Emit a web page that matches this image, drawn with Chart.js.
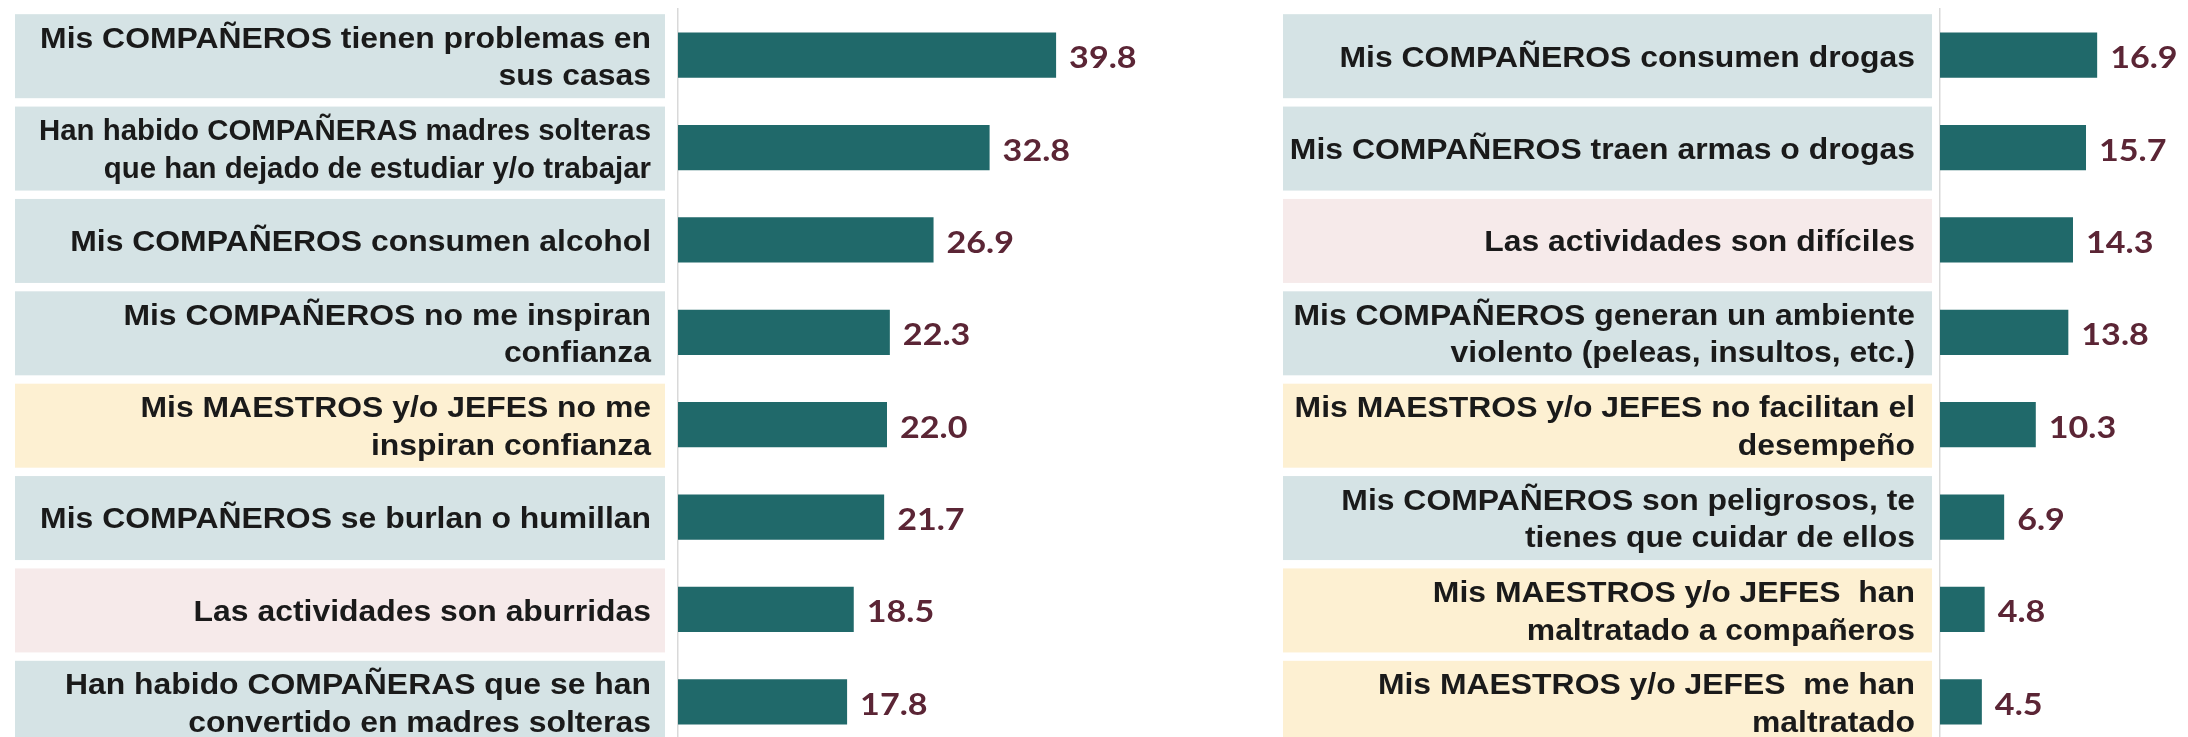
<!DOCTYPE html>
<html>
<head>
<meta charset="utf-8">
<script src="https://cdn.jsdelivr.net/npm/chart.js@4/dist/chart.umd.min.js"></script>
<style>
  html, body { margin: 0; padding: 0; background: #fff; width: 2188px; height: 737px; overflow: hidden; }
  #chart-left { position: absolute; left: 0; top: 0; }
  #chart-right { position: absolute; left: 1262px; top: 0; }
</style>
</head>
<body>
<canvas id="chart-left" width="1250" height="750"></canvas>
<canvas id="chart-right" width="1238" height="750"></canvas>
<script>
// categories, values and row groups for each panel
var leftLabels = [
    ['Mis COMPAÑEROS tienen problemas en', 'sus casas'],
    ['Han habido COMPAÑERAS madres solteras', 'que han dejado de estudiar y/o trabajar'],
    ['Mis COMPAÑEROS consumen alcohol'],
    ['Mis COMPAÑEROS no me inspiran', 'confianza'],
    ['Mis MAESTROS y/o JEFES no me', 'inspiran confianza'],
    ['Mis COMPAÑEROS se burlan o humillan'],
    ['Las actividades son aburridas'],
    ['Han habido COMPAÑERAS que se han', 'convertido en madres solteras']
];
var leftValues = [39.8, 32.8, 26.9, 22.3, 22.0, 21.7, 18.5, 17.8];
var leftGroups = ['companeros', 'companeros', 'companeros', 'companeros', 'maestros', 'companeros', 'actividades', 'companeros'];

var rightLabels = [
    ['Mis COMPAÑEROS consumen drogas'],
    ['Mis COMPAÑEROS traen armas o drogas'],
    ['Las actividades son difíciles'],
    ['Mis COMPAÑEROS generan un ambiente', 'violento (peleas, insultos, etc.)'],
    ['Mis MAESTROS y/o JEFES no facilitan el', 'desempeño'],
    ['Mis COMPAÑEROS son peligrosos, te', 'tienes que cuidar de ellos'],
    ['Mis MAESTROS y/o JEFES  han', 'maltratado a compañeros'],
    ['Mis MAESTROS y/o JEFES  me han', 'maltratado']
];
var rightValues = [16.9, 15.7, 14.3, 13.8, 10.3, 6.9, 4.8, 4.5];
var rightGroups = ['companeros', 'companeros', 'actividades', 'companeros', 'maestros', 'companeros', 'maestros', 'maestros'];

var groupColors = {
    companeros: '#d5e3e5',
    maestros: '#fdf0d2',
    actividades: '#f6eaea'
};

var TEXT_STRETCH = 1.1;

// shaded label boxes, wrapped category text and value labels
var panelPlugin = {
    id: 'panel',
    beforeDatasetsDraw: function (chart, args, opts) {
        var ctx = chart.ctx;
        var y = chart.scales.y;
        var area = chart.chartArea;
        ctx.save();
        ctx.font = 'bold 29px "Liberation Sans", Arial, sans-serif';
        ctx.textAlign = 'right';
        ctx.textBaseline = 'alphabetic';
        chart.data.labels.forEach(function (lines, i) {
            var cy = y.getPixelForValue(i) + 1;
            ctx.fillStyle = groupColors[opts.groups[i]];
            ctx.fillRect(opts.boxLeft, cy - 42, area.left - opts.boxGap - opts.boxLeft, 84);

            // shrink the whole row when its widest line would overflow the box
            var widest = Math.max.apply(null, lines.map(function (l) {
                return ctx.measureText(l).width * TEXT_STRETCH;
            }));
            var sx = TEXT_STRETCH * Math.min(1, opts.textMax / widest);

            ctx.fillStyle = '#1a1a1a';
            var right = area.left - opts.textGap;
            lines.forEach(function (line, j) {
                var base = cy + 10.4 + (j - (lines.length - 1) / 2) * 37.5;
                ctx.save();
                ctx.translate(right, base);
                ctx.scale(sx, 1);
                ctx.fillText(line, 0, 0);
                ctx.restore();
            });
        });
        ctx.restore();
    },
    afterDatasetsDraw: function (chart, args, opts) {
        var ctx = chart.ctx;
        var values = chart.data.datasets[0].data;
        ctx.save();
        ctx.fillStyle = '#5b2535';
        ctx.font = 'bold 31px Lato, "Open Sans", sans-serif';
        ctx.textAlign = 'left';
        ctx.textBaseline = 'alphabetic';
        chart.getDatasetMeta(0).data.forEach(function (bar, i) {
            ctx.save();
            ctx.translate(bar.x + opts.valueGap, bar.y + 13);
            ctx.scale(1.1, 1);
            ctx.fillText(values[i].toFixed(1), 0, 0);
            ctx.restore();
        });
        ctx.restore();
    }
};

function makeChart(id, labels, values, groups, boxLeft, boxGap, textGap, textMax) {
    var ctx = document.getElementById(id).getContext('2d');
    return new Chart(ctx, {
        type: 'bar',
        data: {
            labels: labels,
            datasets: [{
                data: values,
                backgroundColor: '#20696a',
                barPercentage: 0.49,
                categoryPercentage: 1
            }]
        },
        options: {
            indexAxis: 'y',
            responsive: false,
            animation: false,
            layout: { padding: { top: 9, bottom: 2, left: 0, right: 2 } },
            plugins: {
                legend: { display: false },
                tooltip: { enabled: false },
                panel: {
                    groups: groups,
                    boxLeft: boxLeft,
                    boxGap: boxGap,
                    textGap: textGap,
                    textMax: textMax,
                    valueGap: 13
                }
            },
            scales: {
                x: { display: false, min: 0, max: 60 },
                y: {
                    grid: { display: false },
                    border: { display: true, color: '#d9d9d9', width: 1.5 },
                    ticks: { display: false },
                    afterFit: function (scale) { scale.width = 678; }
                }
            }
        },
        plugins: [panelPlugin]
    });
}

makeChart('chart-left', leftLabels, leftValues, leftGroups, 15, 13, 27, 612);
makeChart('chart-right', rightLabels, rightValues, rightGroups, 21, 8, 25, 630);
</script>
</body>
</html>
